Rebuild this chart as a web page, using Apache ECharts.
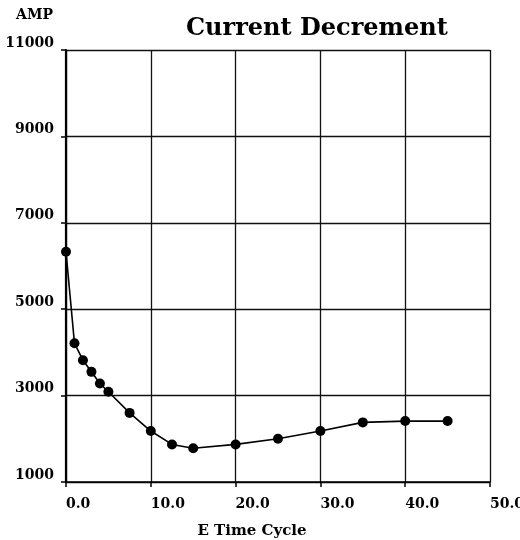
<!DOCTYPE html>
<html>
<head>
<meta charset="utf-8">
<script src="https://cdn.jsdelivr.net/npm/echarts@6/dist/echarts.min.js"></script>
<style>
html,body{margin:0;padding:0;background:#fff;overflow:hidden;}
#c{width:520px;height:540px;}
</style>
</head>
<body>
<div id="c"></div>
<script>
const timeCycle = [0, 1, 2, 3, 4, 5, 7.5, 10, 12.5, 15, 20, 25, 30, 35, 40, 45];
const ampValues = [6330, 4210, 3820, 3550, 3280, 3090, 2600, 2180, 1870, 1780, 1870, 2000, 2180, 2380, 2410, 2410];
const xTicks = [0, 10, 20, 30, 40, 50];
const yTicks = [1000, 3000, 5000, 7000, 9000, 11000];

const serif = '"DejaVu Serif", "Liberation Serif", serif';
const chart = echarts.init(document.getElementById('c'), null, {renderer: 'canvas'});
const points = timeCycle.map((x, i) => [x, ampValues[i]]);

chart.setOption({
  backgroundColor: '#fff',
  animation: false,
  title: {
    text: 'Current Decrement',
    left: 181,
    top: 12,
    textStyle: {fontFamily: serif, fontWeight: 'bold', fontSize: 24, color: '#000'}
  },
  grid: {left: 66, top: 50, width: 424, height: 432, containLabel: false, outerBoundsMode: 'none', show: false},
  xAxis: {
    type: 'value',
    min: xTicks[0],
    max: xTicks[xTicks.length - 1],
    interval: 10,
    name: 'E Time Cycle',
    nameLocation: 'middle',
    nameGap: 42,
    nameTextStyle: {fontFamily: serif, fontWeight: 'bold', fontSize: 15, color: '#000', padding: [0, 52, 0, 0]},
    axisLine: {show: true, onZero: false, lineStyle: {color: '#000', width: 1.5}},
    axisTick: {show: true, length: 5, lineStyle: {color: '#000', width: 1.5}},
    axisLabel: {
      formatter: v => v.toFixed(1),
      align: 'left',
      margin: 15,
      hideOverlap: false,
      fontFamily: serif, fontWeight: 'bold', fontSize: 14, color: '#000'
    },
    splitLine: {show: true, lineStyle: {color: '#111', width: 1.3}}
  },
  yAxis: {
    type: 'value',
    min: yTicks[0],
    max: yTicks[yTicks.length - 1],
    interval: 2000,
    name: 'AMP',
    nameLocation: 'end',
    nameGap: 28,
    nameTextStyle: {fontFamily: serif, fontWeight: 'bold', fontSize: 14, color: '#000', align: 'right', padding: [0, 13, 0, 0]},
    axisLine: {show: true, onZero: false, lineStyle: {color: '#000', width: 2.2}},
    axisTick: {show: true, length: 5, lineStyle: {color: '#000', width: 1.5}},
    axisLabel: {
      formatter: v => String(v),
      margin: 12,
      verticalAlign: 'bottom',
      fontFamily: serif, fontWeight: 'bold', fontSize: 14, color: '#000'
    },
    splitLine: {show: true, lineStyle: {color: '#111', width: 1.3}}
  },
  series: [{
    type: 'line',
    data: points,
    clip: false,
    symbol: 'circle',
    symbolSize: 10,
    itemStyle: {color: '#000'},
    lineStyle: {color: '#000', width: 1.6}
  }]
});
</script>
</body>
</html>
